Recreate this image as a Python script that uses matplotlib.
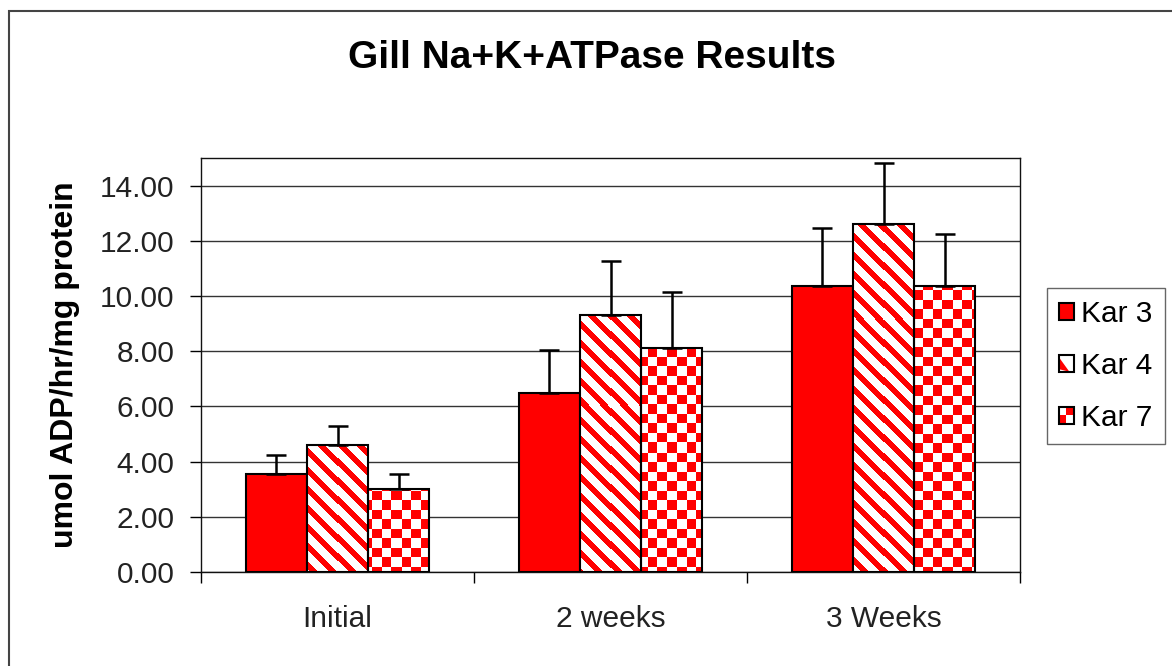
import numpy as np
import matplotlib.pyplot as plt
from matplotlib.patches import Rectangle
from matplotlib.legend_handler import HandlerBase
from matplotlib.colors import ListedColormap

plt.rcParams['font.family'] = ['Liberation Sans', 'DejaVu Sans']

categories = ["Initial", "2 weeks", "3 Weeks"]
series = ["Kar 3", "Kar 4", "Kar 7"]
kar3 = [3.55, 6.49, 10.37]
kar3_err = [0.69, 1.56, 2.11]
kar4 = [4.60, 9.32, 12.62]
kar4_err = [0.70, 1.96, 2.21]
kar7 = [3.00, 8.12, 10.37]
kar7_err = [0.55, 2.04, 1.89]
yticks = [0, 2, 4, 6, 8, 10, 12, 14]

RED = "#ff0000"
W, H, DPI = 1172, 666, 100
FS = 21.5
# plot area in pixels
PX_L, PX_R, PX_T, PX_B = 201, 1020, 158, 572


class SwatchHandler(HandlerBase):
    # little legend squares: solid / stripes / checker
    def __init__(self, kind):
        super().__init__()
        self.kind = kind

    def create_artists(self, legend, orig_handle, xdescent, ydescent,
                       width, height, fontsize, trans):
        x0, y0 = -xdescent, -ydescent
        arts = []
        if self.kind == "solid":
            arts.append(Rectangle((x0, y0), width, height, fc=RED, ec="black",
                                  lw=1.5, transform=trans))
            return arts
        if self.kind == "stripe":
            arts.append(Rectangle((x0, y0), width, height, fc="white", lw=0,
                                  transform=trans))
            # one red diagonal band, top-left to bottom-right
            arts.append(plt.Polygon([(x0, y0 + height * 0.85), (x0, y0 + height * 0.15),
                                     (x0 + width * 0.7, y0)], closed=True,
                                    fc=RED, lw=0, transform=trans))
        else:
            arts.append(Rectangle((x0, y0), width, height, fc="white", lw=0,
                                  transform=trans))
            arts.append(Rectangle((x0 + width / 2, y0 + height / 2), width / 2,
                                  height / 2, fc=RED, lw=0, transform=trans))
            arts.append(Rectangle((x0, y0), width / 2, height / 2, fc=RED,
                                  lw=0, transform=trans))
        arts.append(Rectangle((x0, y0), width, height, fill=False, ec="black",
                              lw=1.5, transform=trans))
        return arts


fig = plt.figure(figsize=(W / DPI, H / DPI), dpi=DPI)
ax = fig.add_axes([PX_L / W, 1 - PX_B / H, (PX_R - PX_L) / W, (PX_B - PX_T) / H])

xlim = (-0.5, 2.5)
ylim = (0, 15)
x = np.arange(len(categories))
bw = 0.2235
err_kw = dict(ecolor="black", elinewidth=1.8, capsize=7, capthick=1.8)
white_red = ListedColormap(["white", RED])

# fill textures, one pixel per screen pixel over the plot area
rows, cols = np.indices((PX_B - PX_T, PX_R - PX_L))
stripes = (((cols - rows) % 19) < 8).astype(int)
checker = ((rows // 9.5).astype(int) + (cols // 9.5).astype(int)) % 2


def textured_bars(xpos, vals, tex):
    bars = ax.bar(xpos, vals, bw, color="white", lw=0, zorder=2.9)
    for bar in bars:
        im = ax.imshow(tex, cmap=white_red, extent=(*xlim, *ylim),
                       interpolation="nearest", aspect="auto", zorder=3)
        im.set_clip_path(bar)
    ax.bar(xpos, vals, bw, fill=False, edgecolor="black", lw=1.5, zorder=3.5)


# Kar 3 - solid red
ax.bar(x - bw, kar3, bw, color=RED, edgecolor="black", lw=1.5, zorder=3)
ax.errorbar(x - bw, kar3, yerr=[np.zeros(3), kar3_err], fmt="none", zorder=4, **err_kw)

# Kar 4 - red diagonal stripes
textured_bars(x, kar4, stripes)
ax.errorbar(x, kar4, yerr=[np.zeros(3), kar4_err], fmt="none", zorder=4, **err_kw)

# Kar 7 - checkerboard
textured_bars(x + bw, kar7, checker)
ax.errorbar(x + bw, kar7, yerr=[np.zeros(3), kar7_err], fmt="none", zorder=4, **err_kw)

ax.set_xlim(*xlim)
ax.set_ylim(*ylim)
ax.set_yticks(yticks)
ax.set_yticklabels([f"{v:.2f}" for v in yticks], fontsize=FS, color="#222222")
ax.yaxis.grid(True, color="#333333", lw=1.0, zorder=0)
ax.set_axisbelow(True)
ax.tick_params(axis="y", length=8, width=1, direction="out", pad=11)

ax.set_xticks(x)
ax.set_xticklabels(categories, fontsize=FS, color="#222222")
ax.set_xticks([-0.5, 0.5, 1.5, 2.5], minor=True)
ax.tick_params(axis="x", which="major", length=0, pad=24)
ax.tick_params(axis="x", which="minor", length=8, width=1, direction="out")

for s in ax.spines.values():
    s.set_color("#111111")
    s.set_linewidth(1.0)

ax.set_ylabel("umol ADP/hr/mg protein", fontsize=23, fontweight="bold")
ax.yaxis.set_label_coords((80 - PX_L) / (PX_R - PX_L), 0.5)

fig.text(592 / W, 1 - 58 / H, "Gill Na+K+ATPase Results", ha="center",
         va="center", fontsize=28, fontweight="bold")

# outer chart frame (cut off on the right and bottom)
fig.patches.append(Rectangle((9 / W, -0.05), 1.2, 1 - 11 / H + 0.05, fill=False,
                             ec="#444444", lw=1.5, transform=fig.transFigure))

proxies = [Rectangle((0, 0), 1, 1) for _ in series]
kinds = ["solid", "stripe", "checker"]
leg = fig.legend(proxies, series, loc="upper left",
                 bbox_to_anchor=(1047 / W, 1 - 288 / H), borderaxespad=0,
                 handler_map={p: SwatchHandler(k) for p, k in zip(proxies, kinds)},
                 fontsize=FS, handlelength=0.5, handleheight=0.5,
                 handletextpad=0.25, labelspacing=0.8, borderpad=0.4,
                 fancybox=False, edgecolor="#666666", framealpha=1)
leg.get_frame().set_linewidth(1.0)

fig.savefig("out.png", dpi=DPI)
